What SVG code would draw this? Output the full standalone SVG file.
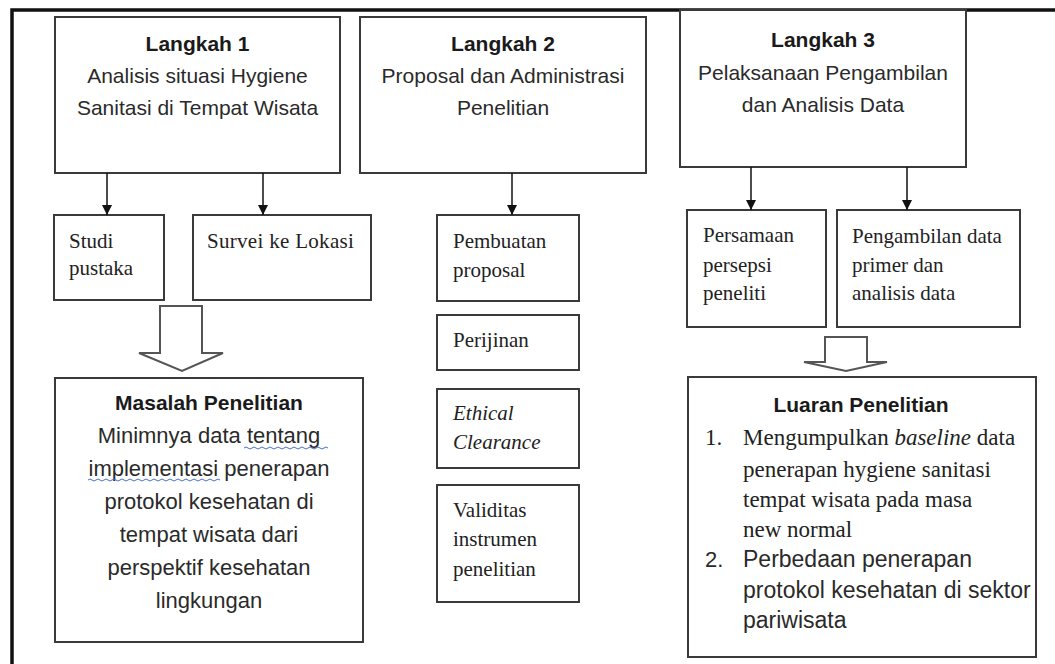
<svg xmlns="http://www.w3.org/2000/svg" width="1055" height="664" viewBox="0 0 1055 664">
<defs>
<marker id="ah" viewBox="0 0 10 10" refX="10" refY="5" markerWidth="10" markerHeight="10" markerUnits="userSpaceOnUse" orient="auto">
<path d="M0,0 L10,5 L0,10 z" fill="#111"/>
</marker>
<style>
.box{fill:#fff;stroke:#3a3a3a;stroke-width:2}
.sans{font-family:"Liberation Sans",Arial,sans-serif;fill:#2a2a2a}
.serif{font-family:"Liberation Serif","Times New Roman",serif;fill:#222}
.ttl{font-weight:bold;fill:#1a1a1a}
.conn{stroke:#111;stroke-width:1.5;fill:none}
.blk{fill:#fff;stroke:#555;stroke-width:2;stroke-linejoin:miter}
.wavy{fill:none;stroke:#4a6fd0;stroke-width:1}
</style>
</defs>
<rect width="1055" height="664" fill="#fff"/>
<g id="frame">
<path d="M12,664 L12,10 L1055,10" fill="none" stroke="#111" stroke-width="3.5"/>
</g>

<g id="langkah1">
<rect class="box" x="55" y="17" width="285" height="156"/>
<text class="sans" font-size="21" text-anchor="middle"><tspan class="ttl" x="197.5" y="51">Langkah 1</tspan><tspan x="197.5" y="83">Analisis situasi Hygiene</tspan><tspan x="197.5" y="115">Sanitasi di Tempat Wisata</tspan></text>
</g>
<g id="langkah2">
<rect class="box" x="360" y="17" width="286" height="156"/>
<text class="sans" font-size="21" text-anchor="middle"><tspan class="ttl" x="503" y="51">Langkah 2</tspan><tspan x="503" y="83">Proposal dan Administrasi</tspan><tspan x="503" y="115">Penelitian</tspan></text>
</g>
<g id="langkah3">
<rect class="box" x="680" y="10" width="286" height="157"/>
<text class="sans" font-size="21" text-anchor="middle"><tspan class="ttl" x="823" y="47">Langkah 3</tspan><tspan x="823" y="80">Pelaksanaan Pengambilan</tspan><tspan x="823" y="112">dan Analisis Data</tspan></text>
</g>

<g id="studi">
<rect class="box" x="54" y="215" width="110" height="85"/>
<text class="serif" font-size="21"><tspan x="69" y="248">Studi</tspan><tspan x="69" y="275">pustaka</tspan></text>
</g>
<g id="survei">
<rect class="box" x="193" y="215" width="178" height="85"/>
<text class="serif" font-size="21" letter-spacing="0.3"><tspan x="207" y="248">Survei ke Lokasi</tspan></text>
</g>

<g id="pembuatan">
<rect class="box" x="437" y="215" width="142" height="86"/>
<text class="serif" font-size="21"><tspan x="453" y="248">Pembuatan</tspan><tspan x="453" y="277">proposal</tspan></text>
</g>
<g id="perijinan">
<rect class="box" x="437" y="315" width="142" height="55"/>
<text class="serif" font-size="21"><tspan x="453" y="347">Perijinan</tspan></text>
</g>
<g id="ethical">
<rect class="box" x="437" y="389" width="142" height="79"/>
<text class="serif" font-size="21" font-style="italic"><tspan x="453" y="420">Ethical</tspan><tspan x="453" y="449">Clearance</tspan></text>
</g>
<g id="validitas">
<rect class="box" x="437" y="485" width="142" height="117"/>
<text class="serif" font-size="21"><tspan x="453" y="517">Validitas</tspan><tspan x="453" y="546">instrumen</tspan><tspan x="453" y="576">penelitian</tspan></text>
</g>

<g id="persamaan">
<rect class="box" x="687" y="210" width="139" height="117"/>
<text class="serif" font-size="21"><tspan x="703" y="242">Persamaan</tspan><tspan x="703" y="272">persepsi</tspan><tspan x="703" y="300">peneliti</tspan></text>
</g>
<g id="pengambilan">
<rect class="box" x="837" y="210" width="183" height="117"/>
<text class="serif" font-size="21"><tspan x="852" y="243">Pengambilan data</tspan><tspan x="852" y="272">primer dan</tspan><tspan x="852" y="300">analisis data</tspan></text>
</g>

<g id="masalah">
<rect class="box" x="55" y="378" width="308" height="264"/>
<text class="sans" font-size="22" text-anchor="middle"><tspan class="ttl" x="209" y="410" font-size="21">Masalah Penelitian</tspan><tspan x="209" y="443">Minimnya data tentang</tspan><tspan x="209" y="476">implementasi penerapan</tspan><tspan x="209" y="509">protokol kesehatan di</tspan><tspan x="209" y="542">tempat wisata dari</tspan><tspan x="209" y="575">perspektif kesehatan</tspan><tspan x="209" y="608">lingkungan</tspan></text>
<path class="wavy" d="M244,448 q2,-2 4,0 t4,0 t4,0 t4,0 t4,0 t4,0 t4,0 t4,0 t4,0 t4,0 t4,0 t4,0 t4,0 t4,0 t4,0 t4,0 t4,0 t4,0 t4,0 t4,0 t4,0"/>
<path class="wavy" d="M88,480 q2,-2 4,0 t4,0 t4,0 t4,0 t4,0 t4,0 t4,0 t4,0 t4,0 t4,0 t4,0 t4,0 t4,0 t4,0 t4,0 t4,0 t4,0 t4,0 t4,0 t4,0 t4,0 t4,0 t4,0 t4,0 t4,0 t4,0 t4,0 t4,0 t4,0 t4,0 t4,0 t4,0 t4,0"/>
</g>

<g id="luaran">
<rect class="box" x="688" y="377" width="348" height="280"/>
<text class="sans ttl" font-size="21" text-anchor="middle" x="861" y="412">Luaran Penelitian</text>
<text class="serif" font-size="23"><tspan x="705" y="445">1.</tspan><tspan x="743" y="445">Mengumpulkan <tspan font-style="italic">baseline</tspan> data</tspan><tspan x="743" y="477">penerapan  hygiene sanitasi</tspan><tspan x="743" y="507">tempat wisata pada masa</tspan><tspan x="743" y="537">new normal</tspan></text>
<text class="sans" font-size="23"><tspan x="705" y="567" font-size="22">2.</tspan><tspan x="743" y="567">Perbedaan penerapan</tspan><tspan x="743" y="598">protokol kesehatan di sektor</tspan><tspan x="743" y="628">pariwisata</tspan></text>
</g>

<g id="connectors">
<line class="conn" x1="107" y1="173" x2="107" y2="215" marker-end="url(#ah)"/>
<line class="conn" x1="263" y1="173" x2="263" y2="215" marker-end="url(#ah)"/>
<line class="conn" x1="512" y1="173" x2="512" y2="215" marker-end="url(#ah)"/>
<line class="conn" x1="751" y1="167" x2="751" y2="210" marker-end="url(#ah)"/>
<line class="conn" x1="907" y1="167" x2="907" y2="210" marker-end="url(#ah)"/>
<polygon class="blk" points="160,306 202,306 202,353 223,353 182,371 139,353 160,353"/>
<polygon class="blk" points="825,337 867,337 867,362 887,362 846,371 804,362 825,362"/>
</g>
</svg>
